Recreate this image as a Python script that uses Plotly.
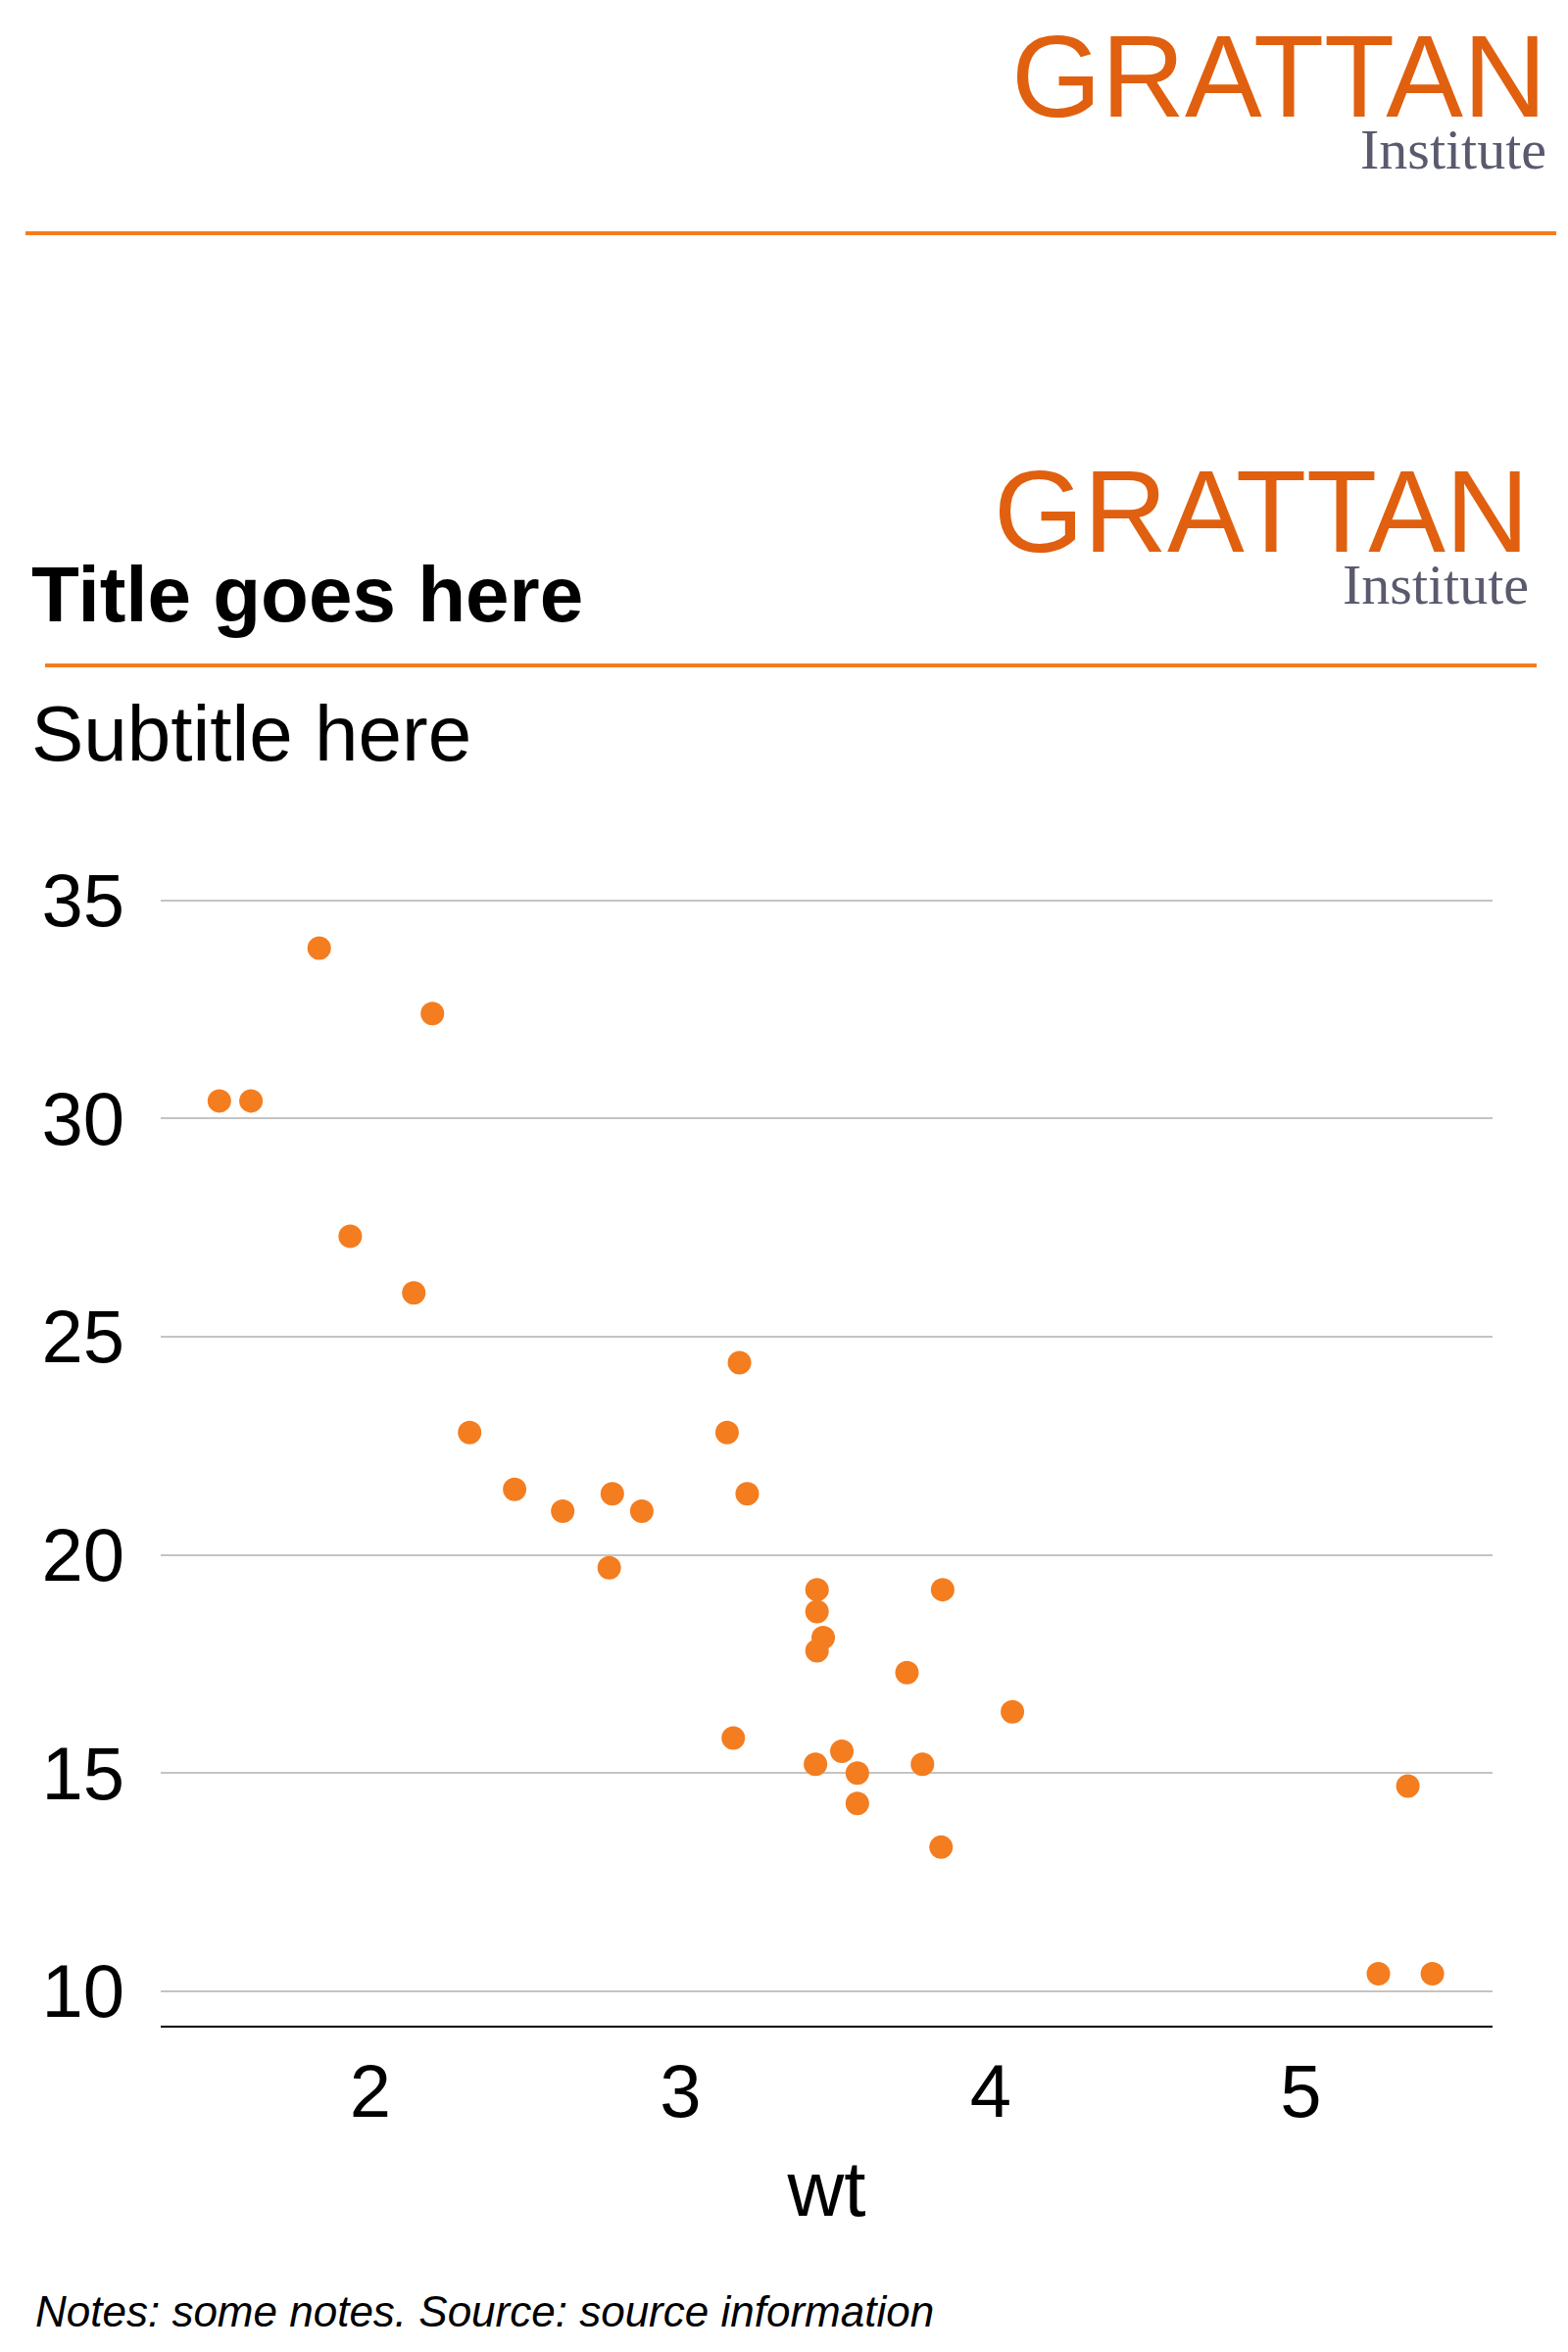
import plotly.graph_objects as go

# mtcars: weight (1000 lbs) and miles per gallon
wt = [2.620, 2.875, 2.320, 3.215, 3.440, 3.460, 3.570, 3.190, 3.150, 3.440, 3.440,
      4.070, 3.730, 3.780, 5.250, 5.424, 5.345, 2.200, 1.615, 1.835, 2.465, 3.520,
      3.435, 3.840, 3.845, 1.935, 2.140, 1.513, 3.170, 2.770, 3.570, 2.780]
mpg = [21.0, 21.0, 22.8, 21.4, 18.7, 18.1, 14.3, 24.4, 22.8, 19.2, 17.8,
       16.4, 17.3, 15.2, 10.4, 10.4, 14.7, 32.4, 30.4, 33.9, 21.5, 15.5,
       15.2, 13.3, 19.2, 27.3, 26.0, 30.4, 15.8, 19.7, 15.0, 21.4]
x_ticks = [2, 3, 4, 5]
y_ticks = [10, 15, 20, 25, 30, 35]

ORANGE = "#F47D20"
LOGO = "#E0600F"
FONT = "Liberation Sans"

# plot area in pixels
L, R, T, B = 156, 1515, 866, 2059
W, H = R - L, B - T


def px(x):
    return (x - 8 - L) / W


def py(y):
    return (B - (y - 8)) / H


fig = go.Figure(go.Scatter(
    x=wt, y=mpg, mode="markers",
    marker=dict(color=ORANGE, size=24),
))

fig.update_layout(
    width=1600, height=2400,
    margin=dict(l=L, r=1600 - R, t=T, b=2400 - B),
    paper_bgcolor="white", plot_bgcolor="white",
    showlegend=False,
    font=dict(family=FONT, color="black", size=60),
)
fig.update_xaxes(range=[1.324, 5.618], tickvals=x_ticks, showgrid=False, zeroline=False,
                 showline=True, linecolor="black", linewidth=2, ticks="",
                 tickfont=dict(size=76), title=dict(text="wt", font=dict(size=80), standoff=30))
fig.update_yaxes(range=[9.21, 36.0], tickvals=y_ticks, showgrid=True, gridcolor="#c4c4c4",
                 gridwidth=2, zeroline=False, showline=False, ticks="",
                 tickfont=dict(size=76), ticklabelstandoff=36)

ann = []
shapes = []


def logo(right, top):
    ann.append(dict(text="GRATTAN", x=px(right), y=py(top), xref="paper", yref="paper",
                    xanchor="right", yanchor="top", showarrow=False,
                    font=dict(family=FONT, size=118, color=LOGO)))
    ann.append(dict(text="Institute", x=px(right), y=py(top + 108), xref="paper", yref="paper",
                    xanchor="right", yanchor="top", showarrow=False,
                    font=dict(family="Liberation Serif", size=58, color="#5a5a6e")))


logo(1580, 10)
shapes.append(dict(type="line", xref="paper", yref="paper", x0=px(26), x1=px(1588),
                   y0=py(238), y1=py(238), line=dict(color=ORANGE, width=4)))
logo(1562, 454)
ann.append(dict(text="<b>Title goes here</b>", x=px(30), y=py(606), xref="paper", yref="paper",
                xanchor="left", yanchor="middle", showarrow=False, font=dict(size=80)))
shapes.append(dict(type="line", xref="paper", yref="paper", x0=px(46), x1=px(1568),
                   y0=py(679), y1=py(679), line=dict(color=ORANGE, width=4)))
ann.append(dict(text="Subtitle here", x=px(30), y=py(748), xref="paper", yref="paper",
                xanchor="left", yanchor="middle", showarrow=False, font=dict(size=80)))
ann.append(dict(text="<i>Notes: some notes. Source: source information</i>", x=px(34), y=py(2358),
                xref="paper", yref="paper", xanchor="left", yanchor="middle", showarrow=False,
                font=dict(size=44)))

fig.update_layout(annotations=ann, shapes=shapes)
fig.write_html("out.html")
